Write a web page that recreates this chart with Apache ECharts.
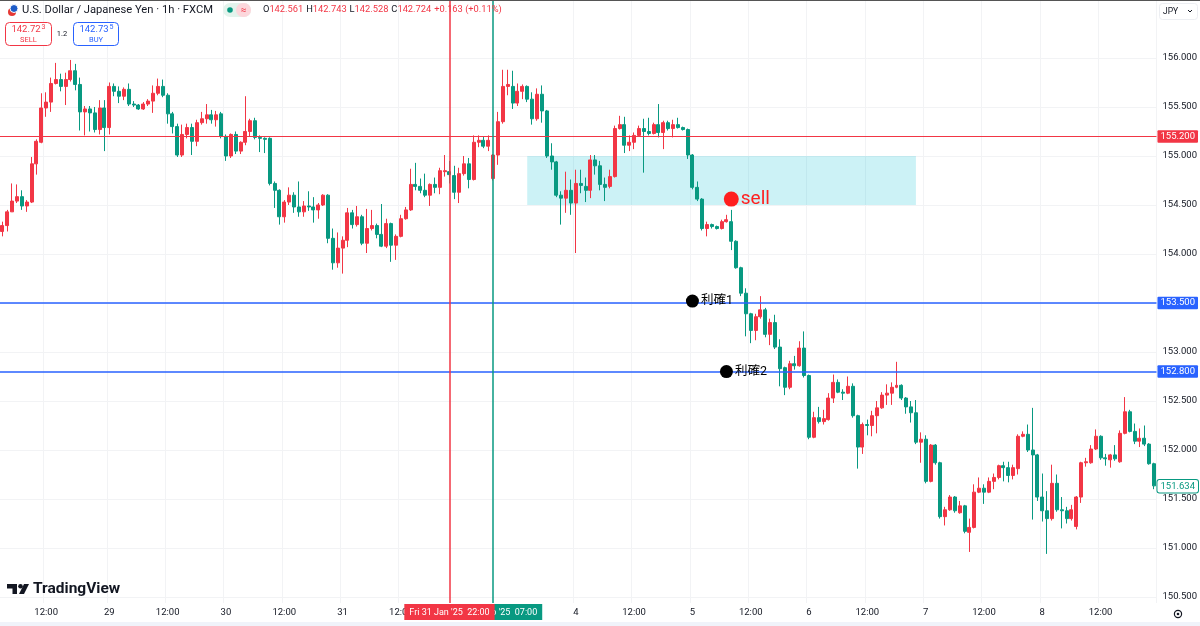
<!DOCTYPE html>
<html><head><meta charset="utf-8">
<script src="https://cdn.jsdelivr.net/npm/echarts@6.0.0/dist/echarts.min.js"></script>
<style>html,body{margin:0;padding:0;background:#fff}#c{width:1200px;height:626px}</style>
</head><body><div id="c"></div>
<script>
// [open, close, high, low] per 1h candle
const candles = [
[154.23,154.29,154.33,154.18],[154.29,154.43,154.45,154.23],[154.43,154.54,154.72,154.43],[154.54,154.585,154.71,154.52],
[154.585,154.49,154.65,154.45],[154.49,154.53,154.55,154.43],[154.53,154.92,154.99,154.52],[154.92,155.15,155.17,154.81],
[155.14,155.49,155.64,155.13],[155.49,155.55,155.65,155.40],[155.55,155.74,155.80,155.45],[155.74,155.78,155.95,155.73],
[155.78,155.71,155.84,155.66],[155.71,155.78,155.85,155.52],[155.78,155.87,155.98,155.76],[155.87,155.73,155.94,155.67],
[155.73,155.45,155.80,155.26],[155.45,155.48,155.51,155.21],[155.48,155.44,155.51,155.25],[155.44,155.27,155.50,155.24],
[155.27,155.49,155.57,155.22],[155.49,155.29,155.57,155.05],[155.29,155.71,155.75,155.22],[155.71,155.66,155.74,155.61],
[155.66,155.61,155.71,155.54],[155.61,155.68,155.70,155.57],[155.68,155.53,155.74,155.51],[155.53,155.52,155.56,155.50],
[155.52,155.48,155.53,155.47],[155.48,155.53,155.55,155.47],[155.53,155.56,155.58,155.51],
[155.56,155.64,155.72,155.44],[155.64,155.71,155.79,155.62],[155.71,155.62,155.78,155.60],[155.62,155.43,155.64,155.33],
[155.43,155.30,155.45,155.23],[155.30,155.01,155.33,154.99],[155.01,155.22,155.32,154.99],[155.22,155.29,155.33,155.18],
[155.29,155.15,155.33,155.01],[155.15,155.34,155.37,155.10],[155.34,155.38,155.45,155.32],[155.38,155.42,155.53,155.33],
[155.42,155.37,155.47,155.33],[155.37,155.42,155.46,155.30],[155.43,155.20,155.45,155.18],[155.20,155.00,155.22,154.95],
[155.00,155.22,155.23,154.98],[155.22,155.05,155.25,155.02],[155.05,155.14,155.15,155.02],[155.14,155.25,155.61,155.11],
[155.25,155.36,155.38,155.20],[155.36,155.19,155.39,155.17],[155.19,155.18,155.21,155.04],[155.18,155.17,155.19,155.03],
[155.18,154.72,155.19,154.70],[154.72,154.65,154.74,154.47],[154.65,154.38,154.66,154.30],[154.38,154.53,154.55,154.32],
[154.53,154.60,154.68,154.50],[154.60,154.48,154.63,154.42],
[154.48,154.43,154.74,154.38],[154.43,154.49,154.54,154.38],[154.49,154.48,154.64,154.44],[154.48,154.45,154.58,154.32],
[154.45,154.50,154.52,154.36],[154.50,154.60,154.61,154.49],[154.60,154.16,154.61,154.11],[154.16,153.91,154.26,153.84],
[153.91,154.06,154.22,153.86],[154.06,154.14,154.18,153.80],[154.14,154.42,154.47,154.07],[154.42,154.30,154.45,154.26],
[154.30,154.38,154.49,154.28],[154.38,154.11,154.40,154.09],[154.11,154.26,154.46,154.01],[154.26,154.29,154.45,154.24],
[154.29,154.20,154.31,154.16],[154.20,154.08,154.51,154.07],[154.08,154.31,154.36,154.06],[154.31,154.09,154.32,153.92],
[154.09,154.18,154.20,153.94],[154.18,154.36,154.40,154.17],[154.36,154.45,154.48,154.35],[154.45,154.71,154.87,154.44],
[154.71,154.69,154.93,154.65],[154.69,154.65,154.77,154.62],[154.65,154.60,154.82,154.58],[154.60,154.71,154.72,154.49],
[154.71,154.68,154.78,154.62],[154.68,154.85,154.88,154.61],
[154.84,154.85,155.01,154.79],[154.84,154.81,154.95,154.72],[154.80,154.63,154.90,154.56],[154.63,154.82,154.88,154.52],
[154.82,154.92,155.00,154.80],[154.92,154.76,154.98,154.67],[154.76,155.14,155.21,154.75],[155.14,155.16,155.21,155.09],
[155.16,155.10,155.20,155.08],[155.10,155.16,155.21,155.05],[154.77,155.01,155.02,154.75],[155.01,155.35,155.45,154.91],
[155.35,155.71,155.88,155.33],[155.71,155.73,155.88,155.62],[155.71,155.54,155.87,155.48],[155.54,155.66,155.74,155.51],
[155.66,155.71,155.73,155.58],[155.71,155.58,155.72,155.55],[155.58,155.38,155.65,155.32],[155.38,155.63,155.69,155.36],
[155.63,155.46,155.72,155.34],[155.46,155.00,155.47,154.98],[155.00,154.94,155.13,154.86],[154.94,154.60,154.95,154.58],
[154.60,154.57,154.64,154.30],[154.57,154.65,154.84,154.42],[154.65,154.52,154.76,154.40],[154.52,154.72,154.86,154.01],
[154.72,154.70,154.86,154.62],
[154.69,154.65,154.78,154.53],[154.65,154.96,155.01,154.57],[154.96,154.90,155.01,154.81],[154.90,154.71,154.95,154.65],
[154.71,154.68,154.78,154.54],[154.69,154.79,154.86,154.67],[154.79,155.28,155.31,154.78],[155.28,155.32,155.41,155.27],
[155.32,155.11,155.40,155.03],[155.11,155.14,155.21,155.05],[155.14,155.21,155.24,155.07],[155.21,155.28,155.31,155.20],
[155.28,155.25,155.38,154.83],[155.25,155.23,155.39,155.21],[155.23,155.32,155.34,155.22],[155.32,155.24,155.53,155.19],
[155.24,155.34,155.36,155.07],[155.34,155.28,155.36,155.26],[155.28,155.32,155.37,155.19],[155.32,155.29,155.39,155.28],
[155.29,155.27,155.30,155.26],[155.27,155.01,155.28,154.97],[155.01,154.68,155.02,154.66],[154.68,154.56,154.74,154.54],
[154.56,154.26,154.57,154.24],[154.26,154.30,154.33,154.18],[154.30,154.28,154.31,154.26],[154.28,154.26,154.29,154.25],
[154.26,154.33,154.35,154.25],[154.33,154.35,154.40,154.32],
[154.33,154.13,154.45,154.04],[154.13,153.86,154.14,153.85],[153.86,153.60,153.87,153.57],[153.60,153.39,153.65,153.16],
[153.39,153.22,153.40,153.09],[153.22,153.36,153.39,153.12],[153.36,153.43,153.57,153.34],[153.43,153.18,153.45,153.15],
[153.18,153.30,153.34,153.07],[153.30,153.05,153.38,153.03],[153.05,152.83,153.13,152.65],[152.84,152.64,152.85,152.56],
[152.64,152.88,152.91,152.62],[152.88,152.86,152.96,152.82],[152.86,153.04,153.11,152.85],[153.04,152.76,153.21,152.74],
[152.76,152.13,152.77,152.11],[152.13,152.33,152.39,152.12],[152.33,152.29,152.44,152.27],[152.29,152.32,152.41,152.26],
[152.31,152.53,152.58,152.30],[152.53,152.69,152.77,152.48],[152.69,152.59,152.72,152.58],[152.59,152.58,152.62,152.51],
[152.58,152.65,152.75,152.57],[152.65,152.35,152.68,152.33],[152.35,152.03,152.36,151.81],[152.03,152.26,152.28,151.96],
[152.26,152.25,152.31,152.15],[152.25,152.35,152.40,152.14],
[152.35,152.43,152.50,152.17],[152.43,152.56,152.59,152.42],[152.56,152.58,152.67,152.46],[152.58,152.64,152.69,152.46],
[152.64,152.66,152.90,152.63],[152.66,152.53,152.67,152.51],[152.53,152.44,152.54,152.37],[152.44,152.38,152.50,152.28],
[152.38,152.08,152.51,152.06],[152.08,152.11,152.18,151.87],[152.11,151.68,152.15,151.66],[151.68,152.05,152.06,151.67],
[152.05,151.87,152.06,151.85],[151.87,151.32,151.88,151.30],[151.32,151.39,151.42,151.23],[151.39,151.52,151.54,151.38],
[151.52,151.38,151.53,151.36],[151.36,151.43,151.48,151.35],[151.43,151.17,151.44,151.15],[151.16,151.21,151.30,150.96],
[151.21,151.57,151.65,151.20],[151.57,151.61,151.72,151.56],[151.61,151.57,151.65,151.45],[151.57,151.68,151.72,151.56],
[151.68,151.72,151.76,151.60],[151.72,151.84,151.85,151.70],[151.84,151.82,151.88,151.68],[151.82,151.74,151.88,151.67],
[151.74,151.82,151.85,151.70],
[151.81,152.14,152.16,151.75],[152.14,152.16,152.19,152.13],[152.16,152.00,152.26,151.98],[152.00,151.95,152.43,151.29],
[151.95,151.52,151.96,151.48],[151.52,151.38,151.76,151.27],[151.38,151.30,151.58,150.94],[151.30,151.66,151.85,151.28],
[151.66,151.39,151.75,151.37],[151.39,151.38,151.52,151.20],[151.38,151.30,151.42,151.25],[151.30,151.39,151.44,151.28],
[151.22,151.52,151.53,151.19],[151.52,151.87,151.88,151.46],[151.87,151.88,151.92,151.83],[151.87,152.01,152.05,151.86],
[152.01,152.14,152.21,152.00],[152.14,151.92,152.15,151.90],[151.92,151.91,151.96,151.84],[151.90,151.95,151.96,151.82],
[151.95,151.91,152.05,151.89],[151.88,152.17,152.20,151.87],[152.17,152.39,152.54,152.16],[152.39,152.19,152.41,152.18],
[152.19,152.09,152.27,152.06],[152.09,152.12,152.22,152.03],[152.12,152.06,152.25,152.04],[152.06,151.86,152.07,151.85],
[151.86,151.634,151.87,151.60]
];
// time-axis tick labels (candle index -> text)
const tickIndex = [9,22,34,46,58,70,82,118,130,142,154,166,178,190,202,214,226];
const tickText  = ['12:00','29','12:00','30','12:00','31','12:00','4','12:00','5','12:00','6','12:00','7','12:00','8','12:00'];
// price-axis tick labels
const priceTicks = [150.5,151.0,151.5,152.0,152.5,153.0,153.5,154.0,154.5,155.0,155.5,156.0];
// horizontal levels
const resistPrices = [155.2];
const takeProfitPrices = [153.5,152.8];
// vertical lines (candle index) and their labels
const vIndex = [101,92];
const vText  = ["Mon 03 Feb '25  07:00","Fri 31 Jan '25  22:00"];
// sell zone
const zoneIndex = [108,188];
const zonePrice = [155.0,154.5];
// annotations
const noteIndex = [150,142,149];
const notePrice = [154.56,153.52,152.80];
const noteText  = ['sell','利確1','利確2'];
const lastPrice = 151.634;

const RED = '#f23645', GREEN = '#089981', BLUE = '#2962ff', INK = '#131722';
const FONT = 'Roboto, "Noto Sans CJK JP", sans-serif';
const tickMap = {};
tickIndex.forEach((k, j) => { tickMap[k] = tickText[j]; });
const cats = candles.map((_, i) => String(i));

function levelLabel(p, c) {
  return {show: true, position: 'end', formatter: p.toFixed(3), backgroundColor: c, color: '#fff',
    padding: [2, 3, 1, 3], fontSize: 9.5, fontFamily: FONT, distance: 1, borderRadius: 1};
}
function vLabel(t, c) {
  return {show: true, position: 'start', formatter: t, backgroundColor: c, color: '#fff',
    padding: [4, 5, 3, 5], fontSize: 9, fontFamily: FONT, distance: 1};
}
function lineHolder(color, width, items, z) {
  return {type: 'line', data: [], z: z, silent: true,
    markLine: {silent: true, symbol: 'none', animation: false,
      lineStyle: {color: color, width: width, type: 'solid', opacity: 1},
      data: items}};
}

const noteStyle = [
  {size: 15, color: '#ff1f1f', font: 19, labelColor: '#ff1f1f'},
  {size: 13, color: '#000', font: 12.5, labelColor: '#000'},
  {size: 13, color: '#000', font: 12.5, labelColor: '#000'}
];

const chart = echarts.init(document.getElementById('c'));
chart.setOption({
  animation: false,
  backgroundColor: '#fff',
  grid: {left: 0, right: 43, top: 0, bottom: 23},
  xAxis: {
    type: 'category', data: cats, boundaryGap: true,
    axisLine: {show: false}, axisTick: {show: false},
    axisLabel: {interval: (i) => tickMap[i] !== undefined, formatter: (v, i) => tickMap[i] || '',
      color: INK, fontSize: 9.5, fontFamily: FONT, margin: 5},
    splitLine: {show: true, interval: (i) => tickMap[i] !== undefined, lineStyle: {color: '#f2f3f5', width: 1}}
  },
  yAxis: {
    type: 'value', position: 'right', min: 150.4388, max: 156.5918,
    axisLine: {show: false}, axisTick: {show: false, customValues: priceTicks},
    axisLabel: {customValues: priceTicks, formatter: (v) => v.toFixed(3), color: INK, fontSize: 9.5, fontFamily: FONT, margin: 6},
    splitLine: {show: true, lineStyle: {color: '#f2f3f5', width: 1}}
  },
  series: [
    {
      type: 'candlestick', data: candles.map(c => [c[0], c[1], c[3], c[2]]), barWidth: '72%', z: 3,
      itemStyle: {color: RED, color0: GREEN, borderColor: RED, borderColor0: GREEN, borderWidth: 1},
      markArea: {silent: true, itemStyle: {color: 'rgba(0,188,212,0.2)'},
        data: [[{xAxis: zoneIndex[0], yAxis: zonePrice[0]}, {xAxis: zoneIndex[1], yAxis: zonePrice[1]}]]}
    },
    lineHolder(RED, 1.2, resistPrices.map(p => ({yAxis: p, lineStyle: {color: RED}, label: levelLabel(p, RED)})), 4),
    lineHolder(BLUE, 1.5, takeProfitPrices.map(p => ({yAxis: p, lineStyle: {color: BLUE}, label: levelLabel(p, BLUE)})), 4),
    lineHolder(GREEN, 1.5, [{xAxis: vIndex[0], lineStyle: {color: GREEN}, label: vLabel(vText[0], GREEN)}], 5),
    lineHolder(RED, 1.5, [{xAxis: vIndex[1], lineStyle: {color: RED}, label: vLabel(vText[1], RED)}], 6),
    lineHolder('rgba(0,0,0,0)', 1, [{yAxis: lastPrice, lineStyle: {color: 'rgba(0,0,0,0)'},
      label: {show: true, position: 'end', formatter: lastPrice.toFixed(3), backgroundColor: '#fff', color: GREEN,
        borderColor: GREEN, borderWidth: 1, borderRadius: 2, padding: [2, 3, 1, 3], fontSize: 9.5, fontFamily: FONT, distance: 1}}], 4),
    {
      type: 'scatter', z: 10, silent: true,
      data: noteIndex.map((k, j) => ({
        value: [k, notePrice[j]], symbolSize: noteStyle[j].size, itemStyle: {color: noteStyle[j].color, opacity: 1},
        label: {show: true, position: 'right', formatter: noteText[j], color: noteStyle[j].labelColor,
          fontSize: noteStyle[j].font, fontFamily: FONT, distance: 2}
      }))
    }
  ],
  graphic: [
    {type: 'rect', shape: {x: 0, y: 0, width: 1200, height: 1}, style: {fill: '#555'}, z: 100},
    {type: 'rect', shape: {x: 0, y: 622, width: 1200, height: 4}, style: {fill: '#f0f3fa'}, z: 100},
    {type: 'circle', shape: {cx: 12, cy: 12, r: 4}, style: {fill: '#e53935'}, z: 100},
    {type: 'circle', shape: {cx: 14, cy: 8.5, r: 4}, style: {fill: '#1e5cc8', stroke: '#fff', lineWidth: 1}, z: 100},
    {type: 'text', x: 22, y: 10, style: {text: 'U.S. Dollar / Japanese Yen · 1h · FXCM', fill: INK, fontSize: 11.2, fontFamily: FONT, verticalAlign: 'middle'}, z: 100},
    {type: 'rect', shape: {x: 223, y: 3, width: 28, height: 14, r: 7}, style: {fill: '#e3f3ec'}, z: 100},
    {type: 'rect', shape: {x: 236, y: 3, width: 15, height: 14, r: 7}, style: {fill: '#fcd7dc'}, z: 101},
    {type: 'circle', shape: {cx: 230, cy: 10, r: 2.8}, style: {fill: GREEN}, z: 102},
    {type: 'text', x: 243.5, y: 10, style: {text: '≈', fill: RED, fontSize: 10, fontFamily: FONT, align: 'center', verticalAlign: 'middle'}, z: 102},
    {type: 'text', x: 263, y: 10, z: 100, style: {
      text: '{k|O}{v|142.561} {k|H}{v|142.743} {k|L}{v|142.528} {k|C}{v|142.724} {v|+0.163 (+0.11%)}',
      verticalAlign: 'middle', fontFamily: FONT,
      rich: {k: {fill: INK, fontSize: 9.3, fontFamily: FONT}, v: {fill: RED, fontSize: 9.3, fontFamily: FONT}}}},
    {type: 'rect', shape: {x: 5.5, y: 22.5, width: 46, height: 23, r: 4}, style: {fill: '#fff', stroke: RED, lineWidth: 1}, z: 100},
    {type: 'text', x: 26, y: 29.5, style: {text: '142.72', fill: RED, fontSize: 9.5, fontFamily: FONT, align: 'center', verticalAlign: 'middle'}, z: 101},
    {type: 'text', x: 41.5, y: 27.5, style: {text: '3', fill: RED, fontSize: 7, fontFamily: FONT, verticalAlign: 'middle'}, z: 101},
    {type: 'text', x: 28.5, y: 40, style: {text: 'SELL', fill: RED, fontSize: 7.5, fontFamily: FONT, align: 'center', verticalAlign: 'middle'}, z: 101},
    {type: 'text', x: 62, y: 34, style: {text: '1.2', fill: INK, fontSize: 7.5, fontFamily: FONT, align: 'center', verticalAlign: 'middle'}, z: 101},
    {type: 'rect', shape: {x: 73.5, y: 22.5, width: 45, height: 23, r: 4}, style: {fill: '#fff', stroke: BLUE, lineWidth: 1}, z: 100},
    {type: 'text', x: 94, y: 29.5, style: {text: '142.73', fill: BLUE, fontSize: 9.5, fontFamily: FONT, align: 'center', verticalAlign: 'middle'}, z: 101},
    {type: 'text', x: 109.5, y: 27.5, style: {text: '5', fill: BLUE, fontSize: 7, fontFamily: FONT, verticalAlign: 'middle'}, z: 101},
    {type: 'text', x: 96, y: 40, style: {text: 'BUY', fill: BLUE, fontSize: 7.5, fontFamily: FONT, align: 'center', verticalAlign: 'middle'}, z: 101},
    {type: 'rect', shape: {x: 1159.5, y: 3.5, width: 38, height: 16, r: 3}, style: {fill: '#fff', stroke: '#eceef2', lineWidth: 1}, z: 100},
    {type: 'text', x: 1163, y: 11.5, style: {text: 'JPY', fill: INK, fontSize: 8.5, fontFamily: FONT, verticalAlign: 'middle'}, z: 101},
    {type: 'polyline', shape: {points: [[1188, 10], [1190, 12], [1192, 10]]}, style: {stroke: INK, lineWidth: 1, fill: null}, z: 101},
    {type: 'polygon', shape: {points: [[7, 584], [17, 584], [17, 594], [12.5, 594], [12.5, 588.5], [7, 588.5]]}, style: {fill: INK}, z: 100},
    {type: 'circle', shape: {cx: 20.5, cy: 586.3, r: 2.3}, style: {fill: INK}, z: 100},
    {type: 'polygon', shape: {points: [[24, 584], [29, 584], [24, 594], [19, 594]]}, style: {fill: INK}, z: 100},
    {type: 'text', x: 33, y: 589.5, style: {text: 'TradingView', fill: INK, fontSize: 15.5, fontWeight: 'bold', fontFamily: FONT, verticalAlign: 'middle'}, z: 100},
    {type: 'circle', shape: {cx: 1178, cy: 614, r: 3.6}, style: {fill: 'none', stroke: INK, lineWidth: 1.2}, z: 100},
    {type: 'circle', shape: {cx: 1178, cy: 614, r: 1.3}, style: {fill: INK}, z: 100}
  ]
});
</script></body></html>
